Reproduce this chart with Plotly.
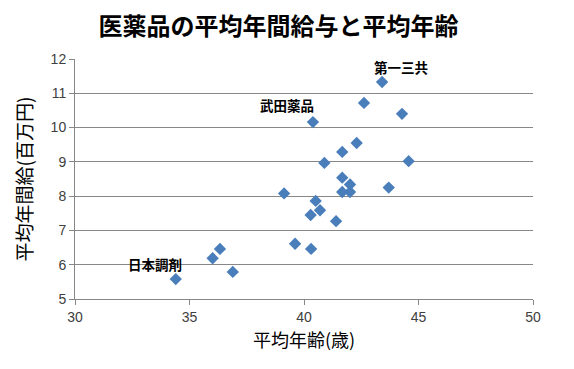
import plotly.graph_objects as go

age = [34.40, 36.01, 36.33, 36.89, 39.13, 39.61, 40.29, 40.31, 40.51, 40.39,
       40.70, 40.89, 41.40, 41.67, 41.67, 42.01, 41.67, 42.01, 42.30, 42.62,
       43.41, 43.70, 44.28, 44.57]
salary = [5.58, 6.19, 6.46, 5.79, 8.08, 6.61, 7.45, 6.46, 7.86, 10.16,
          7.59, 8.97, 7.27, 9.29, 8.54, 8.34, 8.12, 8.12, 9.55, 10.72,
          11.33, 8.25, 10.40, 9.02]

label_names = ["日本調剤", "武田薬品", "第一三共"]
label_x = [34.76, 39.24, 44.25]
label_y = [6.02, 10.66, 11.77]
label_anchor = ["right", "center", "center"]

title = "医薬品の平均年間給与と平均年齢"
x_title = "平均年齢(歳)"
y_title = "平均年間給(百万円)"

jp = "Noto Sans CJK JP"
num = "Liberation Sans"

fig = go.Figure()
fig.add_trace(go.Scatter(
    x=age, y=salary, mode="markers",
    marker=dict(symbol="diamond", size=9.5, color="#4A7EBB",
                line=dict(width=0)),
    showlegend=False, hoverinfo="x+y"))

for n, x, y, a in zip(label_names, label_x, label_y, label_anchor):
    fig.add_annotation(x=x, y=y, text="<b>" + n + "</b>", showarrow=False,
                       xanchor=a, yanchor="middle",
                       font=dict(family=jp, size=13.5, color="#000000"))

fig.update_layout(
    width=566, height=361,
    margin=dict(l=67, r=41, t=51, b=70, autoexpand=False),
    paper_bgcolor="white", plot_bgcolor="white",
    title=dict(text="<b>" + title + "</b>", x=0.478, xanchor="center",
               y=1 - 19 / 361, yanchor="middle",
               font=dict(family=jp, size=24, color="#000000")),
    xaxis=dict(range=[30, 50], tickvals=[30, 35, 40, 45, 50],
               showgrid=False, zeroline=False, automargin=False,
               showline=True, linecolor="#878787", linewidth=1,
               ticks="outside", ticklen=5, tickcolor="#878787",
               tickfont=dict(family=num, size=14, color="#404040"),
               title=dict(text=x_title, standoff=10,
                          font=dict(family=jp, size=18, color="#000000"))),
    yaxis=dict(range=[5, 12], tickvals=[5, 6, 7, 8, 9, 10, 11, 12],
               showgrid=True, gridcolor="#878787", gridwidth=1,
               zeroline=False, automargin=False,
               showline=True, linecolor="#878787", linewidth=1,
               ticks="outside", ticklen=5, tickcolor="#878787",
               tickfont=dict(family=num, size=14, color="#404040"),
               title=dict(text=y_title, standoff=12,
                          font=dict(family=jp, size=19, color="#000000"))),
)

fig.write_html("out.html")
